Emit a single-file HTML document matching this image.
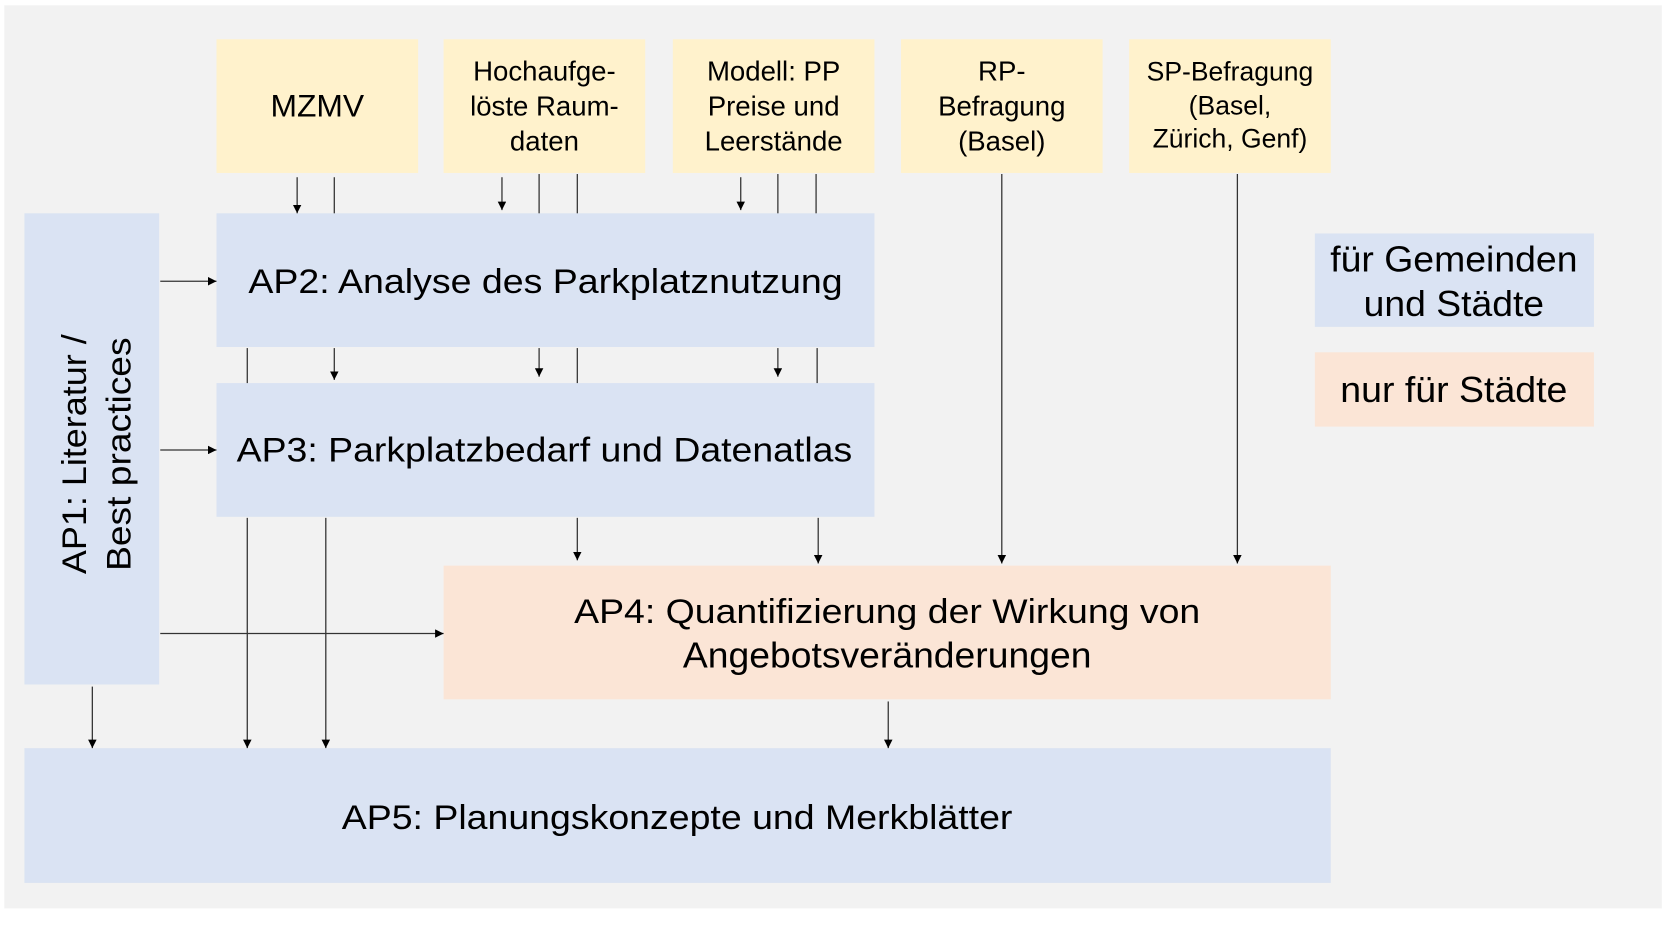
<!DOCTYPE html>
<html><head><meta charset="utf-8"><style>
html,body{margin:0;padding:0;background:#fff;}
svg{display:block;}
text{font-family:"Liberation Sans",Arial,sans-serif;fill:#000;}
</style></head><body>
<svg width="1664" height="931" viewBox="0 0 1568 877.3" xmlns="http://www.w3.org/2000/svg">
<defs>
<marker id="a" viewBox="0 0 10 10" refX="10" refY="5" markerWidth="8" markerHeight="8" markerUnits="userSpaceOnUse" orient="auto">
<path d="M0,0 L10,5 L0,10 z" fill="#000"/></marker>
</defs>
<rect x="4" y="5" width="1562" height="851" fill="#f2f2f2"/>
<g fill="#fff2cc">
<rect x="204" y="37" width="190" height="126"/>
<rect x="418" y="37" width="190" height="126"/>
<rect x="634" y="37" width="190" height="126"/>
<rect x="849" y="37" width="190" height="126"/>
<rect x="1064" y="37" width="190" height="126"/>
</g>
<g fill="#dae3f3">
<rect x="23" y="201" width="127" height="444"/>
<rect x="204" y="201" width="620" height="126"/>
<rect x="204" y="361" width="620" height="126"/>
<rect x="23" y="705" width="1231" height="127"/>
<rect x="1239" y="220" width="263" height="88"/>
</g>
<g fill="#fbe5d6">
<rect x="418" y="533" width="836" height="126"/>
<rect x="1239" y="332" width="263" height="70"/>
</g>
<g stroke="#333" stroke-width="1.2" fill="none">
<line x1="280" y1="167" x2="280" y2="201" marker-end="url(#a)"/>
<line x1="315" y1="167" x2="315" y2="201"/>
<line x1="473" y1="167" x2="473" y2="198" marker-end="url(#a)"/>
<line x1="508" y1="164" x2="508" y2="201"/>
<line x1="544" y1="164" x2="544" y2="201"/>
<line x1="698" y1="167" x2="698" y2="198" marker-end="url(#a)"/>
<line x1="733" y1="164" x2="733" y2="201"/>
<line x1="769" y1="164" x2="769" y2="201"/>
<line x1="233" y1="328" x2="233" y2="361"/>
<line x1="315" y1="328" x2="315" y2="358" marker-end="url(#a)"/>
<line x1="508" y1="328" x2="508" y2="355" marker-end="url(#a)"/>
<line x1="544" y1="328" x2="544" y2="361"/>
<line x1="733" y1="328" x2="733" y2="355" marker-end="url(#a)"/>
<line x1="770" y1="328" x2="770" y2="361"/>
<line x1="233" y1="488" x2="233" y2="705" marker-end="url(#a)"/>
<line x1="307" y1="488" x2="307" y2="705" marker-end="url(#a)"/>
<line x1="544" y1="488" x2="544" y2="528" marker-end="url(#a)"/>
<line x1="771" y1="488" x2="771" y2="531" marker-end="url(#a)"/>
<line x1="944" y1="164" x2="944" y2="531" marker-end="url(#a)"/>
<line x1="1166" y1="164" x2="1166" y2="531" marker-end="url(#a)"/>
<line x1="151" y1="265" x2="204" y2="265" marker-end="url(#a)"/>
<line x1="151" y1="424" x2="204" y2="424" marker-end="url(#a)"/>
<line x1="151" y1="597" x2="418" y2="597" marker-end="url(#a)"/>
<line x1="87" y1="647" x2="87" y2="705" marker-end="url(#a)"/>
<line x1="837" y1="661" x2="837" y2="705" marker-end="url(#a)"/>
</g>
<g text-anchor="middle" font-size="26">
<text x="299" y="110" font-size="30">MZMV</text>
<text x="513" y="76">Hochaufge-</text>
<text x="513" y="109">löste Raum-</text>
<text x="513" y="142">daten</text>
<text x="729" y="76">Modell: PP</text>
<text x="729" y="109">Preise und</text>
<text x="729" y="142">Leerstände</text>
<text x="944" y="76">RP-</text>
<text x="944" y="109">Befragung</text>
<text x="944" y="142">(Basel)</text>
<text x="1159" y="76" font-size="25">SP-Befragung</text>
<text x="1159" y="108" font-size="25">(Basel,</text>
<text x="1159" y="139" font-size="25">Zürich, Genf)</text>
</g>
<g text-anchor="middle" font-size="32">
<text x="514" y="276" textLength="560" lengthAdjust="spacingAndGlyphs">AP2: Analyse des Parkplatznutzung</text>
<text x="513" y="435" textLength="580" lengthAdjust="spacingAndGlyphs">AP3: Parkplatzbedarf und Datenatlas</text>
<text x="836" y="587" textLength="590" lengthAdjust="spacingAndGlyphs">AP4: Quantifizierung der Wirkung von</text>
<text x="836" y="629" font-size="34" textLength="385" lengthAdjust="spacingAndGlyphs">Angebotsveränderungen</text>
<text x="638" y="781" textLength="632" lengthAdjust="spacingAndGlyphs">AP5: Planungskonzepte und Merkblätter</text>
<text x="1370" y="256" font-size="34" textLength="233" lengthAdjust="spacingAndGlyphs">für Gemeinden</text>
<text x="1370" y="298" font-size="34" textLength="170" lengthAdjust="spacingAndGlyphs">und Städte</text>
<text x="1370" y="379" font-size="34" textLength="214" lengthAdjust="spacingAndGlyphs">nur für Städte</text>
<g transform="translate(87,428) rotate(-90)">
<text x="0" y="-6" textLength="226" lengthAdjust="spacingAndGlyphs">AP1: Literatur /</text>
<text x="0" y="36" textLength="220" lengthAdjust="spacingAndGlyphs">Best practices</text>
</g>
</g>
</svg>
</body></html>
